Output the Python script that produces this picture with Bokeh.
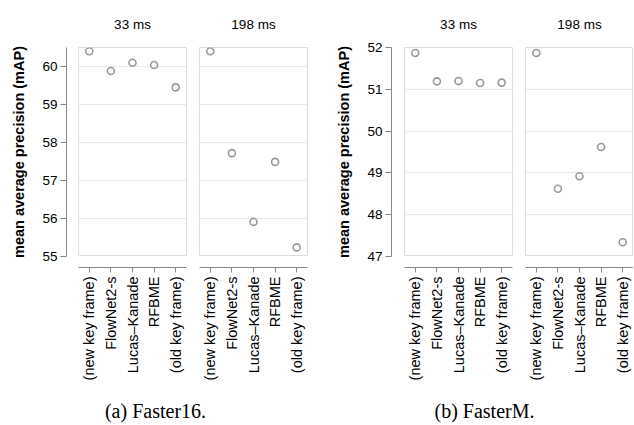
import math
from bokeh.plotting import figure
from bokeh.layouts import row, column
from bokeh.models import FactorRange, Range1d, FixedTicker, Label
from bokeh.embed import file_html
from bokeh.resources import INLINE

# ---- data ----
methods = ["(new key frame)", "FlowNet2-s", "Lucas\u2013Kanade", "RFBME", "(old key frame)"]
delays = ["33 ms", "198 ms"]
faster16_33 = [60.40, 59.88, 60.10, 60.04, 59.45]
faster16_198 = [60.40, 57.72, 55.91, 57.49, 55.24]
fasterm_33 = [51.87, 51.19, 51.20, 51.15, 51.16]
fasterm_198 = [51.87, 48.62, 48.92, 49.62, 47.34]
y_ticks_a = [55, 56, 57, 58, 59, 60]
y_ticks_b = [47, 48, 49, 50, 51, 52]
y_range_a = (55, 60.5)
y_range_b = (47, 52)
captions = ["(a) Faster16.", "(b) FasterM."]
y_label = "mean average precision (mAP)"

SANS = "Liberation Sans"
SERIF = "Liberation Serif"
TOP = 47
FH = 209
PW = 108
AX_COL = "#888888"
GRID_COL = "#e8e8e8"
OUT_COL = "#dddddd"
PT_COL = "#999999"


def yaxis_fig(yr, ticks, left):
    p = figure(frame_width=1, frame_height=FH, min_border_left=left, min_border_right=0,
               min_border_top=TOP, min_border_bottom=14, x_range=Range1d(0, 1), y_range=yr,
               x_axis_location=None, y_axis_location="left", toolbar_location=None,
               output_backend="svg", outline_line_color=None)
    p.grid.visible = False
    ax = p.yaxis[0]
    ax.ticker = FixedTicker(ticks=ticks)
    ax.axis_label = y_label
    ax.axis_label_text_font = SANS
    ax.axis_label_text_font_style = "bold"
    ax.axis_label_text_font_size = "14.5px"
    ax.axis_label_text_color = "#000000"
    ax.axis_label_standoff = 12
    ax.major_label_text_font = SANS
    ax.major_label_text_font_size = "13.5px"
    ax.major_label_text_color = "#000000"
    ax.major_label_standoff = 3
    ax.axis_line_color = AX_COL
    ax.major_tick_line_color = AX_COL
    ax.major_tick_out = 6
    ax.major_tick_in = 0
    ax.minor_tick_line_color = None
    return p


def panel_fig(xr, yr, ticks, vals, title, left, right):
    p = figure(frame_width=PW, frame_height=FH, min_border_left=left, min_border_right=right,
               min_border_top=TOP, min_border_bottom=0, x_range=xr, y_range=yr,
               x_axis_location=None, y_axis_location=None, toolbar_location=None,
               output_backend="svg", title=title)
    p.outline_line_color = OUT_COL
    p.outline_line_width = 1
    p.xgrid.visible = False
    p.ygrid.ticker = FixedTicker(ticks=ticks)
    p.ygrid.grid_line_color = GRID_COL
    p.ygrid.grid_line_width = 1
    p.title.align = "center"
    p.title.vertical_align = "top"
    p.title.text_font = SANS
    p.title.text_font_style = "normal"
    p.title.text_font_size = "13.5px"
    p.title.text_color = "#000000"
    p.title.standoff = 27
    p.scatter(x=methods, y=vals, marker="circle", size=7, fill_color="white",
              line_color=PT_COL, line_width=1.6)
    return p


def xaxis_fig(xr, left, right):
    p = figure(frame_width=PW, frame_height=1, min_border_left=left, min_border_right=right,
               min_border_top=10, min_border_bottom=116, x_range=xr, y_range=Range1d(0, 1),
               x_axis_location="below", y_axis_location=None, toolbar_location=None,
               output_backend="svg", outline_line_color=None)
    p.grid.visible = False
    ax = p.xaxis[0]
    ax.major_label_orientation = math.pi / 2
    ax.major_label_text_font = SANS
    ax.major_label_text_font_size = "14.5px"
    ax.major_label_text_color = "#000000"
    ax.major_label_standoff = 4
    ax.axis_line_color = AX_COL
    ax.major_tick_line_color = AX_COL
    ax.major_tick_out = 5
    ax.major_tick_in = 0
    return p


def group(yr_vals, ticks, series, yleft, last):
    yr = Range1d(*yr_vals)
    cols = [yaxis_fig(yr, ticks, yleft)]
    lefts = [11, 12] if not last else [12, 12]
    rights = [1, 1] if not last else [1, 0]
    for i, (d, vals) in enumerate(zip(delays, series)):
        xr = FactorRange(factors=methods, range_padding=0)
        pf = panel_fig(xr, yr, ticks, vals, d, lefts[i], rights[i])
        xf = xaxis_fig(xr, lefts[i], rights[i])
        cols.append(column(pf, xf, spacing=0))
    return cols


row_items = group(y_range_a, y_ticks_a, [faster16_33, faster16_198], 66, False) + \
    group(y_range_b, y_ticks_b, [fasterm_33, fasterm_198], 83, True)
top_row = row(*row_items, spacing=0)

CW = 633
CH = 41
cap = figure(width=CW, height=CH, min_border=0, x_range=Range1d(0, CW), y_range=Range1d(0, CH),
             x_axis_location=None, y_axis_location=None, toolbar_location=None,
             output_backend="svg", outline_line_color=None)
cap.grid.visible = False
cap_x = [155, 484]
for cx, txt in zip(cap_x, captions):
    cap.add_layout(Label(x=cx, y=14, text=txt, text_align="center", text_baseline="middle",
                         text_font=SERIF, text_font_size="20px", text_color="#000000"))

layout = column(top_row, cap, spacing=0)

open("out.html", "w").write(file_html(layout, INLINE))
